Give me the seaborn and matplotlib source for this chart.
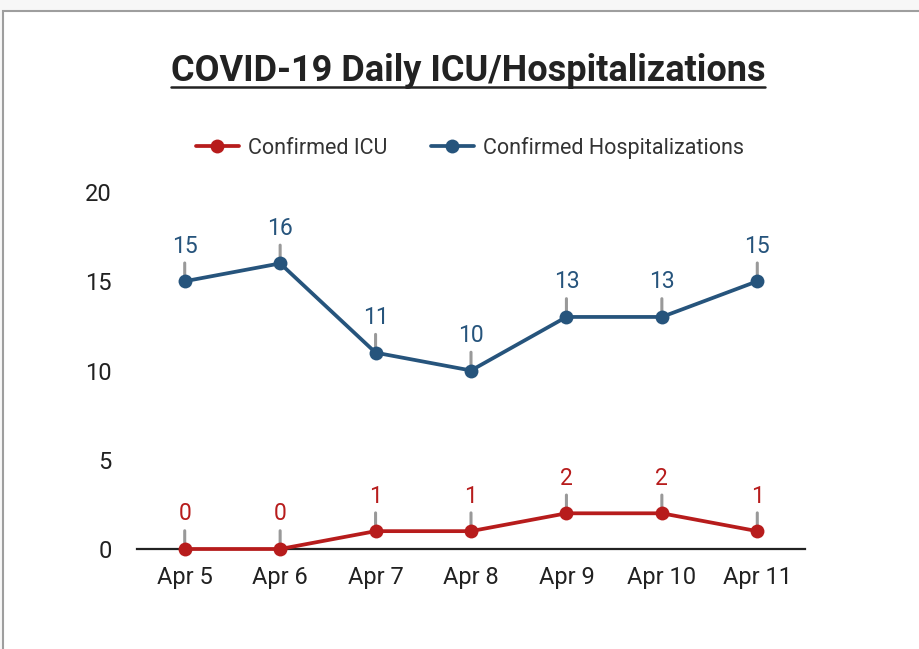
import pandas as pd
import numpy as np
import matplotlib
matplotlib.use('Agg')
import matplotlib.pyplot as plt
from matplotlib.lines import Line2D
from matplotlib.patches import Rectangle
import seaborn as sns

days = ['Apr 5', 'Apr 6', 'Apr 7', 'Apr 8', 'Apr 9', 'Apr 10', 'Apr 11']
icu = [0, 0, 1, 1, 2, 2, 1]
hosp = [15, 16, 11, 10, 13, 13, 15]
series_names = ['Confirmed ICU', 'Confirmed Hospitalizations']
y_ticks = [0, 5, 10, 15, 20]

red = '#b71c1c'
blue = '#26547c'
colors = {'Confirmed ICU': red, 'Confirmed Hospitalizations': blue}

df = pd.DataFrame({'Day': days, 'Confirmed ICU': icu, 'Confirmed Hospitalizations': hosp})
long_df = df.melt(id_vars='Day', var_name='Series', value_name='Count')

sns.set_theme(style='white')
plt.rcParams['font.family'] = ['Roboto', 'DejaVu Sans']

fig = plt.figure(figsize=(9.19, 6.49), dpi=100)
fig.patch.set_facecolor('#f7f7f7')
# card background with grey border (top/left visible)
fig.patches.append(Rectangle((3 / 919, -0.1), 1.2, 1 - 11 / 649 + 0.1, transform=fig.transFigure,
                             facecolor='white', edgecolor='#9e9e9e', linewidth=1.5, zorder=-10))

ax = fig.add_axes([137 / 919, 1 - 549 / 649, (805 - 137) / 919, (549 - 192) / 649])
ax.set_facecolor('none')

sns.lineplot(data=long_df, x='Day', y='Count', hue='Series', palette=colors, ax=ax,
             marker='o', markersize=10, markeredgewidth=0, linewidth=2.7, legend=False,
             clip_on=False, zorder=3)

ax.set_xlim(-0.5, len(days) - 0.5)
ax.set_ylim(0, 20)
ax.set_yticks(y_ticks)
ax.set_xlabel('')
ax.set_ylabel('')
ax.tick_params(axis='both', length=0, labelsize=17, labelcolor='#212121')
ax.tick_params(axis='y', pad=18)
ax.tick_params(axis='x', pad=12)
for s in ['top', 'right', 'left']:
    ax.spines[s].set_visible(False)
ax.spines['bottom'].set_color('#222222')
ax.spines['bottom'].set_linewidth(1.6)
ax.spines['bottom'].set_zorder(1)

# data labels with short grey leaders
for name, vals in [('Confirmed ICU', icu), ('Confirmed Hospitalizations', hosp)]:
    for i, v in enumerate(vals):
        ax.annotate(str(v), xy=(i, v), xytext=(0, 17), textcoords='offset points',
                    ha='center', va='bottom', fontsize=16.5, color=colors[name],
                    arrowprops=dict(arrowstyle='-', color='#999999', lw=2.2,
                                    shrinkA=1.5, shrinkB=0),
                    annotation_clip=False, zorder=2)

handles = [Line2D([], [], color=colors[n], marker='o', markersize=10, linewidth=2.7,
                  markeredgewidth=0) for n in series_names]
fig.legend(handles, series_names, loc='center', bbox_to_anchor=(470 / 919, 1 - 148 / 649),
           ncol=2, frameon=False, fontsize=15.5, handlelength=2.0, columnspacing=2.0,
           handletextpad=0.45, labelcolor='#333333')

title = fig.text(468 / 919, 1 - 71 / 649, 'COVID-19 Daily ICU/Hospitalizations',
                 ha='center', va='center', fontsize=26, fontweight='bold', color='#222222')
fig.canvas.draw()
bb = title.get_window_extent()
y_ul = 1 - 87 / 649
fig.add_artist(Line2D([bb.x0 / fig.bbox.width, bb.x1 / fig.bbox.width], [y_ul, y_ul],
                      transform=fig.transFigure, color='#222222', linewidth=1.8))

fig.savefig('out.png', dpi=100, facecolor=fig.get_facecolor())
